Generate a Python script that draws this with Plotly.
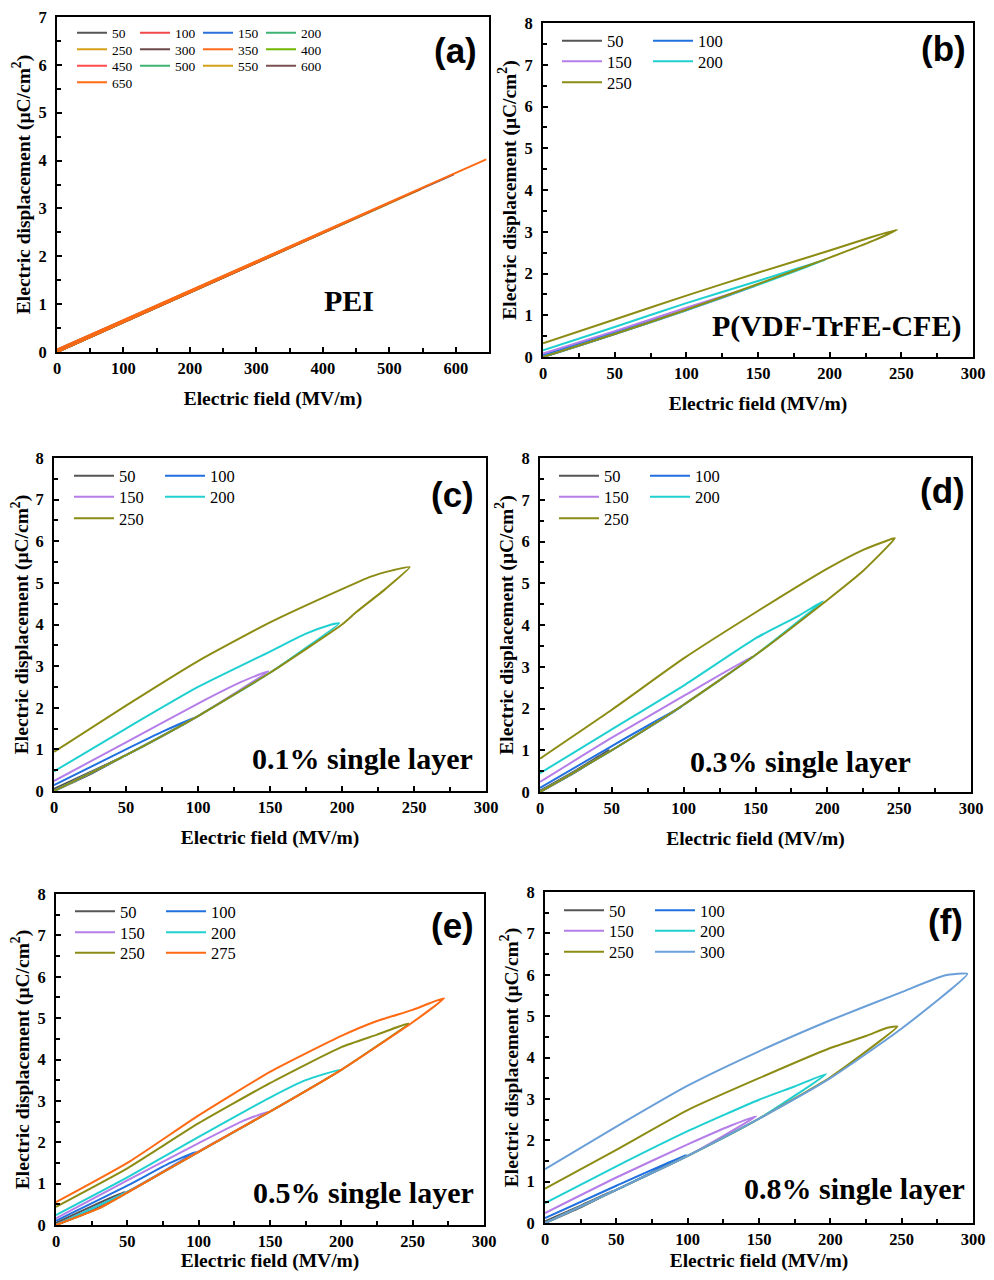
import plotly.graph_objects as go

# ---- data ----
# (a) PEI: each loop is practically a straight line
a_fields = [50, 100, 150, 200, 250, 300, 350, 400, 450, 500, 550, 600, 650]
a_E_max = [48, 97, 147, 197, 247, 297, 347, 397, 447, 497, 547, 597, 645]
a_D_max = [0.30, 0.61, 0.92, 1.23, 1.54, 1.85, 2.16, 2.47, 2.78, 3.09, 3.40, 3.71, 4.02]
a_D_rem = [0.01, 0.01, 0.02, 0.02, 0.02, 0.03, 0.03, 0.03, 0.04, 0.04, 0.04, 0.05, 0.05]
a_colors = ["#555555", "#f04848", "#2a6fdc", "#3cb371", "#d4a017", "#6b4747", "#ff6a1a",
            "#6fb800", "#ff4c4c", "#3cb371", "#d4a017", "#7a5050", "#ff6a13"]

# (b) P(VDF-TrFE-CFE)
b_E_50 = [0, 25, 48, 25, 0]
b_D_50 = [0, 0.27, 0.53, 0.29, 0.02]
b_E_100 = [0, 50, 98, 50, 0]
b_D_100 = [0, 0.55, 1.10, 0.60, 0.04]
b_E_150 = [0, 50, 100, 148, 100, 50, 0]
b_D_150 = [0, 0.55, 1.12, 1.70, 1.18, 0.62, 0.08]
b_E_200 = [0, 50, 100, 150, 197, 150, 100, 50, 0]
b_D_200 = [0, 0.55, 1.12, 1.73, 2.33, 1.82, 1.29, 0.72, 0.16]
b_E_250 = [0, 50, 100, 150, 200, 230, 247, 230, 200, 150, 100, 50, 0]
b_D_250 = [0, 0.55, 1.13, 1.75, 2.38, 2.78, 3.05, 2.88, 2.55, 2.02, 1.47, 0.90, 0.33]

# (c) 0.1% single layer
c_E_50 = [0, 25, 48, 25, 0]
c_D_50 = [0, 0.40, 0.83, 0.45, 0.05]
c_E_100 = [0, 50, 99, 75, 50, 0]
c_D_100 = [0, 0.86, 1.78, 1.42, 1.00, 0.14]
c_E_150 = [0, 50, 100, 149, 130, 100, 50, 0]
c_D_150 = [0, 0.86, 1.80, 2.88, 2.62, 2.10, 1.17, 0.24]
c_E_200 = [0, 50, 100, 150, 198, 190, 175, 150, 100, 50, 0]
c_D_200 = [0, 0.86, 1.80, 2.84, 4.03, 3.97, 3.78, 3.35, 2.50, 1.50, 0.47]
c_E_250 = [0, 50, 100, 150, 200, 210, 230, 247, 235, 220, 200, 150, 100, 50, 0]
c_D_250 = [0, 0.86, 1.80, 2.84, 4.00, 4.30, 4.85, 5.38, 5.30, 5.15, 4.85, 4.05, 3.12, 2.05, 0.94]

# (d) 0.3% single layer
d_E_50 = [0, 25, 48, 25, 0]
d_D_50 = [0, 0.48, 1.00, 0.52, 0.03]
d_E_100 = [0, 50, 99, 50, 0]
d_D_100 = [0, 1.00, 2.05, 1.10, 0.10]
d_E_150 = [0, 50, 100, 148, 100, 50, 0]
d_D_150 = [0, 1.00, 2.09, 3.25, 2.30, 1.30, 0.24]
d_E_200 = [0, 50, 100, 150, 197, 180, 150, 100, 50, 0]
d_D_200 = [0, 1.00, 2.09, 3.28, 4.57, 4.22, 3.68, 2.55, 1.50, 0.45]
d_E_250 = [0, 50, 100, 150, 200, 225, 247, 240, 225, 200, 150, 100, 50, 0]
d_D_250 = [0, 1.00, 2.09, 3.28, 4.60, 5.30, 6.08, 6.00, 5.80, 5.35, 4.30, 3.20, 1.97, 0.80]

# (e) 0.5% single layer
e_E_50 = [0, 25, 48, 25, 0]
e_D_50 = [0, 0.35, 0.80, 0.45, 0.05]
e_E_100 = [0, 50, 98, 80, 50, 0]
e_D_100 = [0, 0.80, 1.77, 1.50, 0.95, 0.10]
e_E_150 = [0, 50, 100, 149, 130, 100, 50, 0]
e_D_150 = [0, 0.80, 1.78, 2.74, 2.50, 1.98, 1.08, 0.16]
e_E_200 = [0, 50, 100, 150, 199, 175, 150, 100, 50, 0]
e_D_200 = [0, 0.80, 1.77, 2.74, 3.75, 3.50, 3.08, 2.13, 1.15, 0.24]
e_E_250 = [0, 30, 50, 100, 150, 200, 247, 225, 200, 150, 100, 50, 0]
e_D_250 = [0, 0.40, 0.78, 1.77, 2.74, 3.75, 4.87, 4.60, 4.30, 3.43, 2.46, 1.37, 0.44]
e_E_275 = [0, 30, 50, 100, 150, 200, 250, 272, 250, 225, 200, 150, 100, 50, 0]
e_D_275 = [0, 0.40, 0.78, 1.77, 2.74, 3.75, 4.90, 5.48, 5.20, 4.93, 4.57, 3.70, 2.65, 1.50, 0.55]

# (f) 0.8% single layer
f_E_50 = [0, 25, 48, 25, 0]
f_D_50 = [0, 0.38, 0.78, 0.42, 0.04]
f_E_100 = [0, 50, 99, 50, 0]
f_D_100 = [0, 0.80, 1.65, 0.90, 0.12]
f_E_150 = [0, 50, 100, 148, 130, 100, 50, 0]
f_D_150 = [0, 0.80, 1.62, 2.58, 2.35, 1.90, 1.10, 0.24]
f_E_200 = [0, 50, 100, 150, 197, 175, 150, 100, 50, 0]
f_D_200 = [0, 0.80, 1.62, 2.52, 3.60, 3.30, 2.98, 2.22, 1.37, 0.48]
f_E_250 = [0, 50, 100, 150, 200, 247, 240, 225, 200, 150, 100, 50, 0]
f_D_250 = [0, 0.80, 1.62, 2.52, 3.52, 4.75, 4.72, 4.52, 4.23, 3.50, 2.73, 1.77, 0.83]
f_E_300 = [0, 50, 100, 150, 200, 250, 296, 280, 250, 200, 150, 100, 50, 0]
f_D_300 = [0, 0.80, 1.62, 2.52, 3.50, 4.70, 6.02, 5.98, 5.58, 4.90, 4.15, 3.32, 2.33, 1.30]

loop_colors = {"50": "#555555", "100": "#2070e0", "150": "#b57ee8", "200": "#20d0d0",
               "250": "#8c8c14", "275": "#ff6a13", "300": "#6b9fd8"}

# page body has an 8px margin: figure starts at (8, 8)
OFF = 8
W, H = 994 - OFF, 1280 - 2 * OFF
SERIF = "Liberation Serif"
RSHIFT = -7  # right column nudged left so its last tick label stays visible


def px_x(p):
    return (p - OFF) / W


def px_y(p):
    return 1 - (p - OFF) / H


fig = go.Figure()

# axis id, x domain px, y domain px (top, bottom), x max, dtick, minor dtick, y max
panels = [
    ("", (57, 489), (17, 352), 650, 100, 50, 7),
    ("2", (550 + RSHIFT, 980 + RSHIFT), (23, 357), 300, 50, 25, 8),
    ("3", (54, 486), (458, 791), 300, 50, 25, 8),
    ("4", (547 + RSHIFT, 978 + RSHIFT), (458, 792), 300, 50, 25, 8),
    ("5", (56, 484), (894, 1225), 300, 50, 25, 8),
    ("6", (552 + RSHIFT, 980 + RSHIFT), (892, 1223), 300, 50, 25, 8),
]

# legend rows: (panel index, [labels], row y centre px, line start x px, font size, column step px)
legend_rows = [
    (0, ["50", "100", "150", "200"], 33, 77, 13.5, 63),
    (0, ["250", "300", "350", "400"], 49.5, 77, 13.5, 63),
    (0, ["450", "500", "550", "600"], 66, 77, 13.5, 63),
    (0, ["650"], 82.5, 77, 13.5, 63),
    (1, ["50", "100"], 41, 569 + RSHIFT, 16.5, 81),
    (1, ["150", "200"], 61.5, 569 + RSHIFT, 16.5, 81),
    (1, ["250"], 82.5, 569 + RSHIFT, 16.5, 81),
    (2, ["50", "100"], 476, 74, 16.5, 81),
    (2, ["150", "200"], 497, 74, 16.5, 81),
    (2, ["250"], 518.5, 74, 16.5, 81),
    (3, ["50", "100"], 476, 566 + RSHIFT, 16.5, 81),
    (3, ["150", "200"], 497, 566 + RSHIFT, 16.5, 81),
    (3, ["250"], 518.5, 566 + RSHIFT, 16.5, 81),
    (4, ["50", "100"], 911.5, 75, 16.5, 81),
    (4, ["150", "200"], 932.5, 75, 16.5, 81),
    (4, ["250", "275"], 953, 75, 16.5, 81),
    (5, ["50", "100"], 910.5, 571 + RSHIFT, 16.5, 81),
    (5, ["150", "200"], 931, 571 + RSHIFT, 16.5, 81),
    (5, ["250", "300"], 952, 571 + RSHIFT, 16.5, 81),
]

legend_of = {}
layout_legends = {}
for i, (p, labels, yc, xs, fs, step) in enumerate(legend_rows):
    key = "legend" if i == 0 else "legend%d" % (i + 1)
    for lab in labels:
        legend_of[(p, lab)] = key
    layout_legends[key] = dict(
        orientation="h", x=px_x(xs - 5), y=px_y(yc), xanchor="left", yanchor="middle",
        bgcolor="rgba(0,0,0,0)", borderwidth=0, tracegroupgap=0,
        entrywidth=step - 45, itemwidth=30 if p == 0 else 40,
        font=dict(family=SERIF, size=fs, color="black"),
    )


def add_loop(p, label, E, D, color):
    ax = panels[p][0]
    fig.add_trace(go.Scatter(
        x=E, y=D, mode="lines", name=label,
        line=dict(color=color, width=2, shape="spline", smoothing=0.5),
        xaxis="x" + ax, yaxis="y" + ax, legend=legend_of[(p, label)],
    ))


# (a)
for f, em, dm, dr, col in zip(a_fields, a_E_max, a_D_max, a_D_rem, a_colors):
    add_loop(0, str(f), [0, em, 0], [0, dm, dr], col)

# (b)-(f)
add_loop(1, "50", b_E_50, b_D_50, loop_colors["50"])
add_loop(1, "100", b_E_100, b_D_100, loop_colors["100"])
add_loop(1, "150", b_E_150, b_D_150, loop_colors["150"])
add_loop(1, "200", b_E_200, b_D_200, loop_colors["200"])
add_loop(1, "250", b_E_250, b_D_250, loop_colors["250"])

add_loop(2, "50", c_E_50, c_D_50, loop_colors["50"])
add_loop(2, "100", c_E_100, c_D_100, loop_colors["100"])
add_loop(2, "150", c_E_150, c_D_150, loop_colors["150"])
add_loop(2, "200", c_E_200, c_D_200, loop_colors["200"])
add_loop(2, "250", c_E_250, c_D_250, loop_colors["250"])

add_loop(3, "50", d_E_50, d_D_50, loop_colors["50"])
add_loop(3, "100", d_E_100, d_D_100, loop_colors["100"])
add_loop(3, "150", d_E_150, d_D_150, loop_colors["150"])
add_loop(3, "200", d_E_200, d_D_200, loop_colors["200"])
add_loop(3, "250", d_E_250, d_D_250, loop_colors["250"])

add_loop(4, "50", e_E_50, e_D_50, loop_colors["50"])
add_loop(4, "100", e_E_100, e_D_100, loop_colors["100"])
add_loop(4, "150", e_E_150, e_D_150, loop_colors["150"])
add_loop(4, "200", e_E_200, e_D_200, loop_colors["200"])
add_loop(4, "250", e_E_250, e_D_250, loop_colors["250"])
add_loop(4, "275", e_E_275, e_D_275, loop_colors["275"])

add_loop(5, "50", f_E_50, f_D_50, loop_colors["50"])
add_loop(5, "100", f_E_100, f_D_100, loop_colors["100"])
add_loop(5, "150", f_E_150, f_D_150, loop_colors["150"])
add_loop(5, "200", f_E_200, f_D_200, loop_colors["200"])
add_loop(5, "250", f_E_250, f_D_250, loop_colors["250"])
add_loop(5, "300", f_E_300, f_D_300, loop_colors["300"])

tickfont = dict(family=SERIF, size=16.5, color="black", weight="bold")
titlefont = dict(family=SERIF, size=19.5, color="black", weight="bold")
axes = {}
for ax, (x0, x1), (yt, yb), xmax, dt, mdt, ymax in panels:
    common = dict(
        showline=True, linewidth=2, linecolor="black", mirror=True,
        ticks="inside", ticklen=5, tickwidth=1.5, tickcolor="black",
        showgrid=False, zeroline=False, tickfont=tickfont, automargin=False,
        ticklabeloverflow="allow",
    )
    axes["xaxis" + ax] = dict(
        common, domain=[px_x(x0), px_x(x1)], range=[0, xmax], dtick=dt, tick0=0,
        anchor="y" + ax, ticklabelstandoff=0,
        minor=dict(ticks="inside", ticklen=4, tickwidth=1.5, tickcolor="black", dtick=mdt, tick0=0),
        title=dict(text="Electric field (MV/m)", font=titlefont, standoff=15),
    )
    axes["yaxis" + ax] = dict(
        common, domain=[px_y(yb), px_y(yt)], range=[0, ymax], dtick=1, tick0=0,
        anchor="x" + ax, ticklabelstandoff=5,
        minor=dict(ticks="inside", ticklen=4, tickwidth=1.5, tickcolor="black", dtick=0.5, tick0=0),
        title=dict(text="Electric displacement (μC/cm<sup>2</sup>)", font=titlefont, standoff=3),
    )

# panel letters and sample names
tags = [("(a)", 455, 51), ("(b)", 950 + RSHIFT, 49), ("(c)", 452, 494),
        ("(d)", 949 + RSHIFT, 491), ("(e)", 452, 925), ("(f)", 952 + RSHIFT, 921)]
names = [("PEI", 349, 300), ("P(VDF-TrFE-CFE)", 843 + RSHIFT, 326),
         ("0.1% single layer", 362, 759), ("0.3% single layer", 807 + RSHIFT, 761),
         ("0.5% single layer", 363, 1192), ("0.8% single layer", 861 + RSHIFT, 1188)]
annotations = []
for t, x, y in tags:
    annotations.append(dict(text=t, x=px_x(x), y=px_y(y), xref="paper", yref="paper",
                            showarrow=False, xanchor="center", yanchor="middle",
                            font=dict(family="Liberation Sans", size=35, color="black", weight="bold")))
for t, x, y in names:
    annotations.append(dict(text=t, x=px_x(x), y=px_y(y), xref="paper", yref="paper",
                            showarrow=False, xanchor="center", yanchor="middle",
                            font=dict(family=SERIF, size=30, color="black", weight="bold")))

fig.update_layout(
    width=W, height=H, margin=dict(l=0, r=0, t=0, b=0),
    paper_bgcolor="white", plot_bgcolor="white", showlegend=True,
    annotations=annotations, **axes, **layout_legends,
)

fig.write_html("out.html")
